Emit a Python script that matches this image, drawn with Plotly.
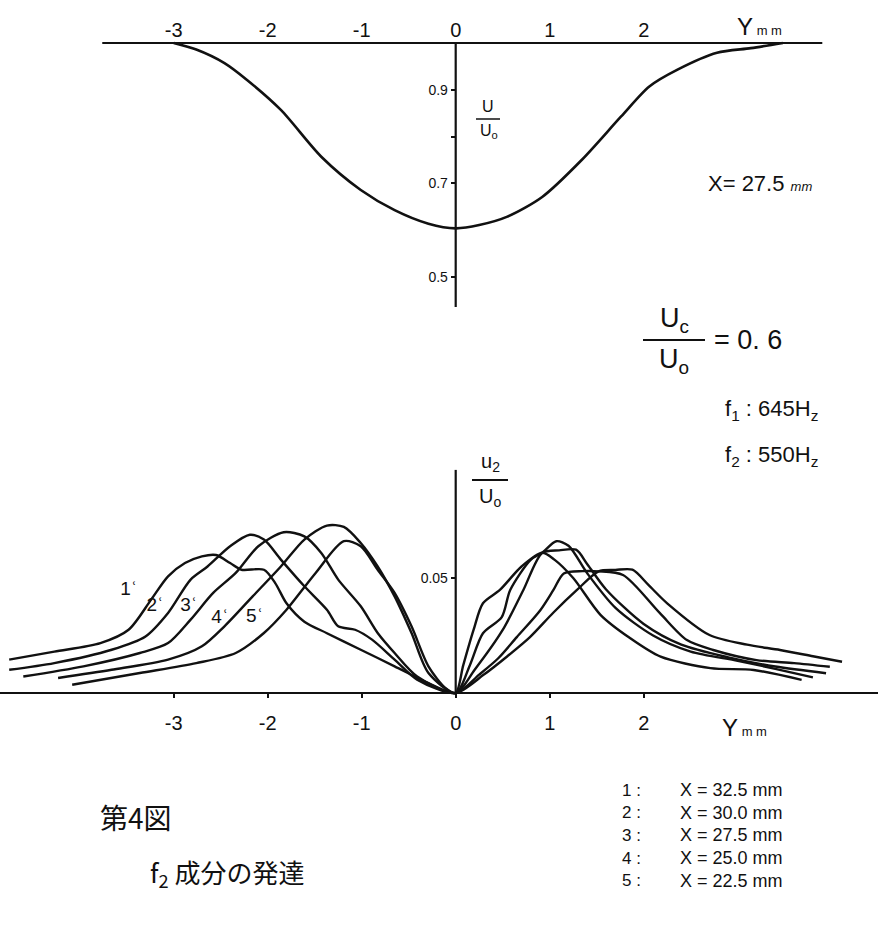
import plotly.graph_objects as go

W, H = 878, 927

# top: mean velocity profile U/U0 at X = 27.5 mm
top_y = [-3.0, -2.76, -2.46, -2.22, -1.86, -1.43, -1.01, -0.65, -0.29, 0.0,
         0.25, 0.55, 0.92, 1.34, 1.76, 2.06, 2.36, 2.78, 3.14, 3.48]
top_u = [1.0, 0.986, 0.957, 0.921, 0.857, 0.757, 0.686, 0.643, 0.614, 0.604,
         0.611, 0.629, 0.671, 0.75, 0.843, 0.907, 0.943, 0.979, 0.989, 1.0]

# bottom: u2/U0 profiles, curves 1..5
c1_y = [-4.75, -4.27, -3.78, -3.48, -3.24, -3.06, -2.88, -2.7, -2.55, -2.4, -2.28, -2.04, -1.92,
        -1.8, -1.61, -1.37, -1.01, -0.65, -0.29, 0.0,
        0.3, 0.55, 0.79, 1.04, 1.29, 1.52, 1.7, 1.88, 2.05, 2.25, 2.7, 3.1, 3.45, 3.8, 4.11]
c1_u = [0.0145, 0.018, 0.0217, 0.0275, 0.0406, 0.0507, 0.0565, 0.0594, 0.060, 0.0565, 0.0536, 0.0536, 0.0478,
        0.039, 0.031, 0.026, 0.0188, 0.0116, 0.0043, 0.0,
        0.008, 0.016, 0.0243, 0.035, 0.0448, 0.0529, 0.0535, 0.0536, 0.047, 0.039, 0.0252, 0.021, 0.0187, 0.016, 0.0136]

c2_y = [-4.75, -4.27, -3.66, -3.3, -3.06, -2.82, -2.64, -2.4, -2.19, -2.04, -1.86,
        -1.61, -1.37, -1.25, -1.07, -0.89, -0.65, -0.41, 0.0,
        0.25, 0.45, 0.65, 0.9, 1.04, 1.15, 1.35, 1.52, 1.78, 2.17, 2.46, 2.74, 3.2, 3.6, 3.98]
c2_u = [0.0101, 0.013, 0.0188, 0.0246, 0.0348, 0.0493, 0.055, 0.0638, 0.0688, 0.0667, 0.058,
        0.0464, 0.0362, 0.029, 0.0275, 0.0232, 0.0145, 0.0058, 0.0,
        0.008, 0.015, 0.0243, 0.036, 0.0448, 0.052, 0.053, 0.0529, 0.0513, 0.0348, 0.023, 0.0187, 0.0143, 0.013, 0.0114]

c3_y = [-4.6, -3.96, -3.36, -3.06, -2.82, -2.58, -2.34, -2.1, -1.83, -1.61, -1.43,
        -1.25, -1.01, -0.83, -0.65, -0.41, 0.0,
        0.2, 0.5, 0.72, 0.92, 1.1, 1.28, 1.4, 1.6, 2.0, 2.4, 2.9, 3.4, 3.94]
c3_u = [0.0072, 0.0116, 0.0174, 0.0217, 0.0319, 0.0435, 0.0522, 0.0638, 0.0699, 0.0681, 0.0609,
        0.0493, 0.0377, 0.0261, 0.0174, 0.0072, 0.0,
        0.01, 0.0274, 0.0448, 0.0609, 0.062, 0.0623, 0.056, 0.045, 0.030, 0.021, 0.0155, 0.0115, 0.0086]

c4_y = [-4.23, -3.66, -3.06, -2.7, -2.46, -2.16, -1.86, -1.61, -1.37, -1.19, -1.01,
        -0.83, -0.65, -0.47, -0.29, 0.0,
        0.15, 0.29, 0.49, 0.58, 0.8, 0.92, 1.07, 1.2, 1.4, 1.7, 2.1, 2.5, 3.0, 3.4, 3.8]
c4_u = [0.0065, 0.0101, 0.0145, 0.0203, 0.029, 0.042, 0.055, 0.0667, 0.0728, 0.0722, 0.0652,
        0.055, 0.042, 0.0261, 0.0087, 0.0,
        0.012, 0.026, 0.033, 0.0448, 0.058, 0.061, 0.066, 0.064, 0.052, 0.037, 0.025, 0.018, 0.014, 0.0105, 0.0068]

c5_y = [-4.08, -3.36, -2.76, -2.34, -2.04, -1.8, -1.49, -1.19, -1.01, -0.83, -0.65,
        -0.47, -0.29, -0.11, 0.0,
        0.08, 0.19, 0.29, 0.47, 0.7, 0.92, 1.05, 1.25, 1.54, 1.85, 2.18, 2.71, 3.17, 3.68]
c5_u = [0.0036, 0.0087, 0.013, 0.0174, 0.0261, 0.0362, 0.0522, 0.066, 0.0638, 0.0536, 0.0435,
        0.029, 0.0116, 0.0022, 0.0,
        0.012, 0.0274, 0.039, 0.0448, 0.055, 0.061, 0.058, 0.05, 0.034, 0.024, 0.0158, 0.0108, 0.010, 0.0057]

curves_y = [c1_y, c2_y, c3_y, c4_y, c5_y]
curves_u = [c1_u, c2_u, c3_u, c4_u, c5_u]
curve_names = ["1", "2", "3", "4", "5"]
curve_x_mm = ["32.5", "30.0", "27.5", "25.0", "22.5"]
label_y = [-3.39, -3.11, -2.75, -2.42, -2.05]
label_u = [0.0448, 0.0378, 0.0378, 0.0326, 0.033]

y_ticks = [-3, -2, -1, 0, 1, 2]
y_tick_text = ["-3", "-2", "-1", "0", "1", "2"]

FONT = "Liberation Sans"
INK = "#111111"


def px(x):
    return x / W


def py(y):
    return 1 - y / H


fig = go.Figure()

fig.add_trace(go.Scatter(x=top_y, y=top_u, mode="lines", xaxis="x", yaxis="y",
                         line=dict(color=INK, width=2.6, shape="spline", smoothing=0.8),
                         hoverinfo="skip"))

for cy, cu in zip(curves_y, curves_u):
    fig.add_trace(go.Scatter(x=cy, y=cu, mode="lines", xaxis="x2", yaxis="y2",
                             line=dict(color=INK, width=2.4, shape="spline", smoothing=0.8),
                             hoverinfo="skip"))

fig.add_trace(go.Scatter(x=label_y, y=label_u, mode="text", text=[n + "\u02bf" for n in curve_names],
                         textposition="middle left", xaxis="x2", yaxis="y2",
                         textfont=dict(family=FONT, size=19, color=INK), hoverinfo="skip"))

xr = [-455.7 / 94, (W - 455.7) / 94]

axis_common = dict(showgrid=False, zeroline=False, showline=False, color=INK,
                   tickfont=dict(family=FONT, size=20, color=INK))

fig.update_layout(
    width=W, height=H,
    margin=dict(l=0, r=0, t=0, b=0),
    paper_bgcolor="white", plot_bgcolor="white",
    showlegend=False,
    xaxis=dict(axis_common, domain=[0, 1], range=xr, anchor="free", position=py(43), side="top",
               tickvals=y_ticks, ticktext=y_tick_text, ticks="", ticklabelstandoff=2),
    yaxis=dict(axis_common, domain=[py(320), 1], range=[1 - (320 - 43) / 468, 1 + 43 / 468],
               anchor="free", position=px(455.7), side="left",
               tickvals=[0.9, 0.8, 0.7, 0.5], ticktext=["0.9", "", "0.7", "0.5"],
               ticks="outside", ticklen=5, tickwidth=1.5, tickcolor=INK,
               tickfont=dict(family=FONT, size=14, color=INK)),
    xaxis2=dict(axis_common, domain=[0, 1], range=xr, anchor="free", position=py(693), side="bottom",
                tickvals=y_ticks, ticktext=y_tick_text, ticks="outside", ticklen=4, tickwidth=1.5,
                tickcolor=INK, ticklabelstandoff=8),
    yaxis2=dict(axis_common, domain=[py(760), py(440)], range=[-(760 - 693) / 2300, (693 - 440) / 2300],
                anchor="free", position=px(455.7), side="left",
                tickvals=[0.05], ticktext=["0.05"], ticks="outside", ticklen=5, tickwidth=1.5,
                tickcolor=INK, tickfont=dict(family=FONT, size=14, color=INK)),
)

# hand drawn axes
line = dict(color=INK, width=2.2)
fig.add_shape(type="line", xref="x", yref="y", x0=-3.76, x1=3.9, y0=1.0, y1=1.0, line=line)
fig.add_shape(type="line", xref="x", yref="y", x0=0, x1=0, y0=1.0, y1=0.436, line=line)
fig.add_shape(type="line", xref="x2", yref="y2", x0=xr[0], x1=xr[1], y0=0, y1=0, line=line)
fig.add_shape(type="line", xref="x2", yref="y2", x0=0, x1=0, y0=0, y1=0.097, line=line)

# fraction bars
fig.add_shape(type="line", xref="paper", yref="paper", x0=px(476), x1=px(500), y0=py(119), y1=py(119),
              line=dict(color=INK, width=1.5))
fig.add_shape(type="line", xref="paper", yref="paper", x0=px(643), x1=px(705), y0=py(340), y1=py(340),
              line=dict(color=INK, width=2))
fig.add_shape(type="line", xref="paper", yref="paper", x0=px(472), x1=px(508), y0=py(480), y1=py(480),
              line=dict(color=INK, width=2))


def note(x, y, text, size=18, anchor="center", family=FONT):
    fig.add_annotation(x=px(x), y=py(y), xref="paper", yref="paper", text=text, showarrow=False,
                       xanchor=anchor, yanchor="middle",
                       font=dict(family=family, size=size, color=INK))


note(735, 27, "Y<span style='font-size:13px'> m m</span>", size=24, anchor="left")
note(488, 106, "U", size=16)
note(489, 132, "U<sub>o</sub>", size=16)
note(706, 183, "X= 27.5 <span style='font-size:13px'><i>mm</i></span>", size=22, anchor="left")
note(674, 320, "U<sub>c</sub>", size=27)
note(674, 361, "U<sub>o</sub>", size=27)
note(712, 340, "= 0. 6", size=27, anchor="left")
note(723, 410, "f<sub>1</sub> : 645H<sub>z</sub>", size=22, anchor="left")
note(723, 456, "f<sub>2</sub> : 550H<sub>z</sub>", size=22, anchor="left")
note(490, 462, "u<sub>2</sub>", size=20)
note(490, 497, "U<sub>o</sub>", size=20)
note(720, 727, "Y<span style='font-size:13px'> m m</span>", size=24, anchor="left")

note(98, 817, "第4図", size=28, anchor="left", family="Noto Sans CJK JP")
note(148, 873, "f<sub>2</sub> 成分の発達", size=26, anchor="left", family="Noto Sans CJK JP")

for i, (n, xm) in enumerate(zip(curve_names, curve_x_mm)):
    yy = 790 + i * 22.7
    note(620, yy, n + " :", size=17, anchor="left")
    note(678, yy, "X = " + xm + " mm", size=18, anchor="left")

fig.write_html("out.html", config={"displayModeBar": False},
               post_script="document.body.style.margin = '0';")
